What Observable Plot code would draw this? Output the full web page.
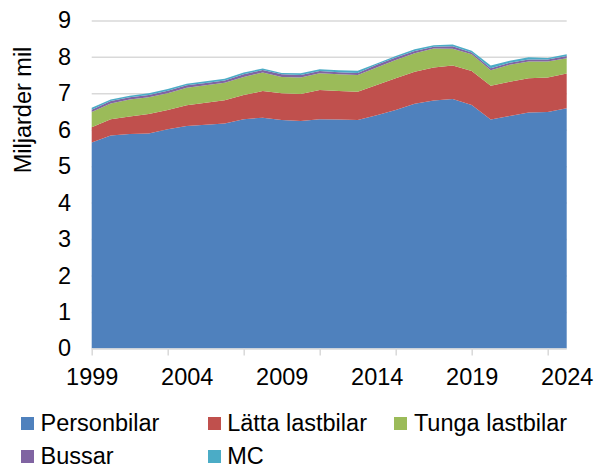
<!DOCTYPE html>
<html>
<head>
<meta charset="utf-8">
<script src="https://cdn.jsdelivr.net/npm/d3@7"></script>
<script src="https://cdn.jsdelivr.net/npm/@observablehq/plot@0.6"></script>
<style>
  body { margin: 0; background: white; }
  #wrap { width: 594px; font-family: "Liberation Sans", Arial, sans-serif; color: #000; }
  #legend { position: relative; width: 594px; height: 68px; font-size: 23.5px; line-height: 24px; }
  .item { position: absolute; height: 24px; display: flex; align-items: center; white-space: nowrap; }
  .sw { width: 13px; height: 13px; margin-right: 6.5px; flex: none; }
</style>
</head>
<body>
<div id="wrap"></div>
<script>
const years = [1999, 2000, 2001, 2002, 2003, 2004, 2005, 2006, 2007, 2008, 2009, 2010, 2011, 2012, 2013, 2014, 2015, 2016, 2017, 2018, 2019, 2020, 2021, 2022, 2023, 2024];
const personbilar = [5.65, 5.84, 5.88, 5.90, 6.01, 6.10, 6.14, 6.17, 6.29, 6.33, 6.27, 6.24, 6.29, 6.28, 6.27, 6.40, 6.54, 6.71, 6.80, 6.84, 6.68, 6.28, 6.38, 6.47, 6.49, 6.59];
const lattaLastbilar = [0.42, 0.45, 0.48, 0.53, 0.53, 0.57, 0.60, 0.64, 0.66, 0.73, 0.73, 0.74, 0.80, 0.78, 0.77, 0.83, 0.87, 0.88, 0.91, 0.92, 0.93, 0.93, 0.94, 0.94, 0.94, 0.95];
const tungaLastbilar = [0.42, 0.43, 0.47, 0.46, 0.46, 0.48, 0.48, 0.48, 0.50, 0.51, 0.45, 0.45, 0.46, 0.46, 0.46, 0.48, 0.50, 0.51, 0.52, 0.46, 0.46, 0.42, 0.46, 0.46, 0.44, 0.42];
const bussar = [0.06, 0.07, 0.06, 0.06, 0.07, 0.07, 0.06, 0.06, 0.07, 0.07, 0.07, 0.07, 0.06, 0.06, 0.06, 0.07, 0.07, 0.06, 0.05, 0.07, 0.05, 0.06, 0.06, 0.06, 0.06, 0.06];
const mc = [0.05, 0.04, 0.04, 0.05, 0.05, 0.04, 0.05, 0.05, 0.05, 0.04, 0.04, 0.05, 0.05, 0.05, 0.06, 0.04, 0.04, 0.05, 0.04, 0.05, 0.05, 0.07, 0.05, 0.06, 0.04, 0.05];

const seriesNames = ["Personbilar", "Lätta lastbilar", "Tunga lastbilar", "Bussar", "MC"];
const seriesValues = [personbilar, lattaLastbilar, tungaLastbilar, bussar, mc];
const colors = ["#4F81BD", "#C0504D", "#9BBB59", "#8064A2", "#4BACC6"];
const yTicks = [0, 1, 2, 3, 4, 5, 6, 7, 8, 9];
const xLabelYears = [1999, 2004, 2009, 2014, 2019, 2024];
const xTickYears = [1999, 2003, 2007, 2011, 2015, 2019, 2023];
const yTitle = "Miljarder mil";

const data = [];
seriesNames.forEach((s, i) => years.forEach((y, j) => data.push({year: y, series: s, value: seriesValues[i][j]})));

const font = "'Liberation Sans', Arial, sans-serif";
const chart = Plot.plot({
  width: 594,
  height: 400,
  marginTop: 20.4,
  marginBottom: 51.6,
  marginLeft: 91.7,
  marginRight: 27.3,
  style: {fontFamily: font, fontSize: "23.5px", color: "#000", background: "white"},
  x: {domain: [1999, 2024], label: null},
  y: {domain: [0, 9], label: null},
  color: {domain: seriesNames, range: colors},
  marks: [
    Plot.ruleY(yTicks.filter(d => d > 0), {stroke: "#d9d9d9", strokeWidth: 1.5}),
    Plot.areaY(data, {x: "year", y: "value", fill: "series", order: seriesNames}),
    Plot.ruleY([0], {stroke: "#d9d9d9", strokeWidth: 1.5}),
    Plot.axisX({ticks: xTickYears, tickSize: 7, tickFormat: () => "", stroke: "#d9d9d9", strokeWidth: 1.5, strokeOpacity: 1}),
    Plot.axisX({ticks: xLabelYears, tickSize: 0, tickPadding: 19, tickFormat: d => String(d)}),
    Plot.axisY({ticks: yTicks, tickSize: 0, tickPadding: 21, tickFormat: d => String(d)})
  ]
});

d3.select(chart).append("text")
  .attr("transform", "translate(31,110) rotate(-90)")
  .attr("text-anchor", "middle")
  .attr("font-family", font)
  .attr("font-size", "23.5px")
  .attr("fill", "#000")
  .text(yTitle);

const wrap = document.getElementById("wrap");
wrap.appendChild(chart);

const legend = document.createElement("div");
legend.id = "legend";
const legendPos = [[21, 11], [207.7, 11], [394.4, 11], [21, 44], [207.7, 44]];
seriesNames.forEach((s, i) => {
  const it = document.createElement("div");
  it.className = "item";
  it.style.left = legendPos[i][0] + "px";
  it.style.top = legendPos[i][1] + "px";
  const sw = document.createElement("span");
  sw.className = "sw";
  sw.style.background = colors[i];
  const tx = document.createElement("span");
  tx.textContent = s;
  it.appendChild(sw);
  it.appendChild(tx);
  legend.appendChild(it);
});
wrap.appendChild(legend);
</script>
</body>
</html>
